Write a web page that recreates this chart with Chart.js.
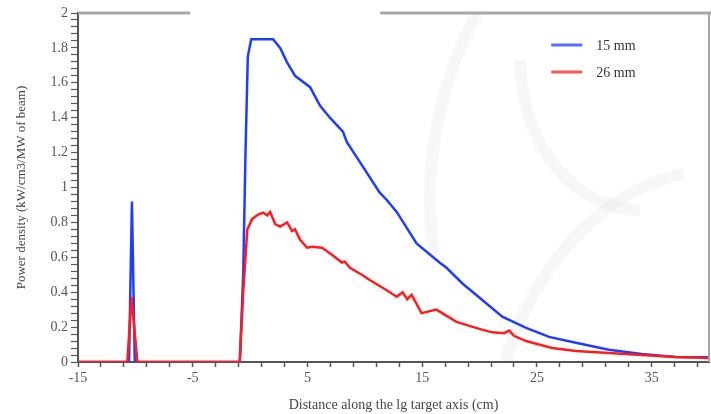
<!DOCTYPE html>
<html>
<head>
<meta charset="utf-8">
<script src="https://cdn.jsdelivr.net/npm/chart.js@4"></script>
<style>
  html, body { margin: 0; padding: 0; background: #fff; }
  #wrap { position: relative; width: 711px; height: 414px; }
</style>
</head>
<body>
<div id="wrap"><canvas id="chart" width="711" height="414"></canvas></div>
<script>
// distance along the target axis (cm) and power density for each beam size
const distance15 = [-15, -10.55, -10.3, -10.05, -0.9, -0.6, -0.4, -0.2, 0.1, 1.0, 2.0, 2.62, 3.2, 3.92, 5.23, 6.09, 6.96, 8.09, 8.44, 9.83, 11.3, 11.9, 12.78, 14.51, 16.51, 17.12, 18.51, 19.98, 21.98, 24.06, 26.06, 28.4, 31.27, 34.13, 37.08, 40];
const power15 = [0, 0, 0.92, 0, 0, 0.5, 1.2, 1.75, 1.85, 1.85, 1.85, 1.8, 1.72, 1.64, 1.575, 1.47, 1.4, 1.32, 1.26, 1.12, 0.97, 0.93, 0.86, 0.68, 0.57, 0.54, 0.45, 0.37, 0.26, 0.195, 0.144, 0.11, 0.07, 0.046, 0.029, 0.027];

const distance26 = [-15, -10.7, -10.34, -9.82, -0.9, -0.6, -0.24, 0.19, 0.71, 1.15, 1.49, 1.75, 2.19, 2.62, 3.23, 3.66, 3.92, 4.36, 4.97, 5.4, 6.27, 7.14, 8.0, 8.26, 8.7, 9.74, 10.43, 11.7, 12.78, 13.3, 13.7, 14.08, 14.95, 16.25, 17.99, 19.98, 21.11, 22.15, 22.59, 23.0, 24.06, 26.32, 28.4, 31.27, 34.13, 37.08, 40];
const power26 = [0, 0, 0.37, 0, 0, 0.4, 0.76, 0.82, 0.845, 0.856, 0.84, 0.86, 0.79, 0.776, 0.8, 0.75, 0.76, 0.7, 0.655, 0.66, 0.655, 0.615, 0.57, 0.575, 0.54, 0.5, 0.47, 0.42, 0.374, 0.4, 0.36, 0.385, 0.28, 0.3, 0.23, 0.19, 0.17, 0.165, 0.18, 0.15, 0.12, 0.08, 0.063, 0.052, 0.04, 0.029, 0.023];

const seriesLabels = ["15 mm", "26 mm"];
const xTickLabels = [-15, -5, 5, 15, 25, 35];
const yTickLabels = [0, 0.2, 0.4, 0.6, 0.8, 1, 1.2, 1.4, 1.6, 1.8, 2];

const BLUE = "#1f3cff";
const RED = "#ff1c1c";
const FONT = "'Liberation Serif', 'DejaVu Serif', serif";

function toPoints(xs, ys) {
  return xs.map((x, i) => ({ x: x, y: ys[i] }));
}

// frame, legend and the faint background logo
const decorPlugin = {
  id: "decor",
  beforeDatasetsDraw(chart) {
    const c = chart.ctx;
    const a = chart.chartArea;
    c.save();
    c.beginPath();
    c.rect(a.left, a.top, a.right - a.left, a.bottom - a.top);
    c.clip();
    c.strokeStyle = "rgba(0,0,0,0.03)";
    c.lineWidth = 12;
    c.beginPath();
    c.ellipse(700, 200, 270, 330, 0, Math.PI * 0.95, Math.PI * 1.5);
    c.stroke();
    c.beginPath();
    c.ellipse(720, 470, 230, 300, 0, Math.PI * 1.0, Math.PI * 1.45);
    c.stroke();
    c.beginPath();
    c.ellipse(640, 60, 120, 150, 0, Math.PI * 0.5, Math.PI * 1.0);
    c.stroke();
    c.restore();
  },
  afterDraw(chart) {
    const c = chart.ctx;
    const a = chart.chartArea;
    const w = a.right - a.left;
    c.save();
    // top frame (with its gap) and right frame
    c.strokeStyle = "#a8a8a8";
    c.lineWidth = 3;
    c.beginPath();
    c.moveTo(a.left, a.top);
    c.lineTo(a.left + w * 0.178, a.top);
    c.moveTo(a.left + w * 0.479, a.top);
    c.lineTo(a.right + 2, a.top);
    c.stroke();
    c.lineWidth = 2;
    c.beginPath();
    c.moveTo(a.right, a.top);
    c.lineTo(a.right, a.bottom);
    c.stroke();

    // legend
    const lx = a.left + w * 0.75;
    const ly = a.top + 32;
    const colors = [BLUE, RED];
    c.font = "14px " + FONT;
    c.textBaseline = "middle";
    c.fillStyle = "#333";
    seriesLabels.forEach((lab, i) => {
      const y = ly + i * 27;
      c.strokeStyle = colors[i];
      c.globalAlpha = 0.75;
      c.lineWidth = 3;
      c.beginPath();
      c.moveTo(lx, y);
      c.lineTo(lx + 31, y);
      c.stroke();
      c.globalAlpha = 1;
      c.fillText(lab, lx + 45, y + 1);
    });
    c.restore();
  }
};

const ctx = document.getElementById("chart").getContext("2d");
new Chart(ctx, {
  type: "line",
  data: {
    datasets: [
      {
        label: seriesLabels[0],
        data: toPoints(distance15, power15),
        borderColor: BLUE,
        borderWidth: 2.5,
        pointRadius: 0,
        tension: 0,
        order: 1,
      },
      {
        label: seriesLabels[1],
        data: toPoints(distance26, power26),
        borderColor: RED,
        borderWidth: 2.5,
        pointRadius: 0,
        tension: 0,
        order: 0,
      },
    ],
  },
  options: {
    responsive: false,
    animation: false,
    layout: { padding: { left: 0, top: 13, right: 2, bottom: 0 } },
    plugins: {
      legend: { display: false },
      tooltip: { enabled: false },
    },
    scales: {
      x: {
        type: "linear",
        min: -15,
        max: 40,
        afterBuildTicks(scale) {
          const t = [];
          for (let v = -15; v <= 39; v += 2) t.push({ value: v });
          scale.ticks = t;
        },
        afterFit(scale) {
          scale.height = 52;
        },
        border: { color: "#555", width: 2 },
        grid: { drawOnChartArea: false, tickLength: 5, color: "#555", tickWidth: 1.5 },
        ticks: {
          autoSkip: false,
          maxRotation: 0,
          padding: 3,
          color: "#555",
          font: { family: FONT, size: 14 },
          callback: (v) => (xTickLabels.includes(v) ? String(v) : ""),
        },
        title: {
          display: true,
          text: "Distance along the lg target axis (cm)",
          color: "#444",
          font: { family: FONT, size: 14 },
          padding: { top: 1, bottom: 0 },
        },
      },
      y: {
        type: "linear",
        min: 0,
        max: 2,
        afterBuildTicks(scale) {
          const t = [];
          for (let i = 0; i <= 50; i++) t.push({ value: Math.round(i * 4) / 100 });
          scale.ticks = t;
        },
        afterFit(scale) {
          scale.width = 78;
        },
        border: { color: "#555", width: 2 },
        grid: { drawOnChartArea: false, tickLength: 7, color: "#555", tickWidth: 1.2 },
        ticks: {
          autoSkip: false,
          padding: 3,
          color: "#555",
          font: { family: FONT, size: 14 },
          callback: (v) => {
            const m = yTickLabels.find((l) => Math.abs(l - v) < 1e-6);
            return m === undefined ? "" : String(m);
          },
        },
        title: {
          display: true,
          text: "Power density (kW/cm3/MW of beam)",
          color: "#444",
          font: { family: FONT, size: 13 },
          padding: { top: 14, bottom: 0 },
        },
      },
    },
  },
  plugins: [decorPlugin],
});
</script>
</body>
</html>
